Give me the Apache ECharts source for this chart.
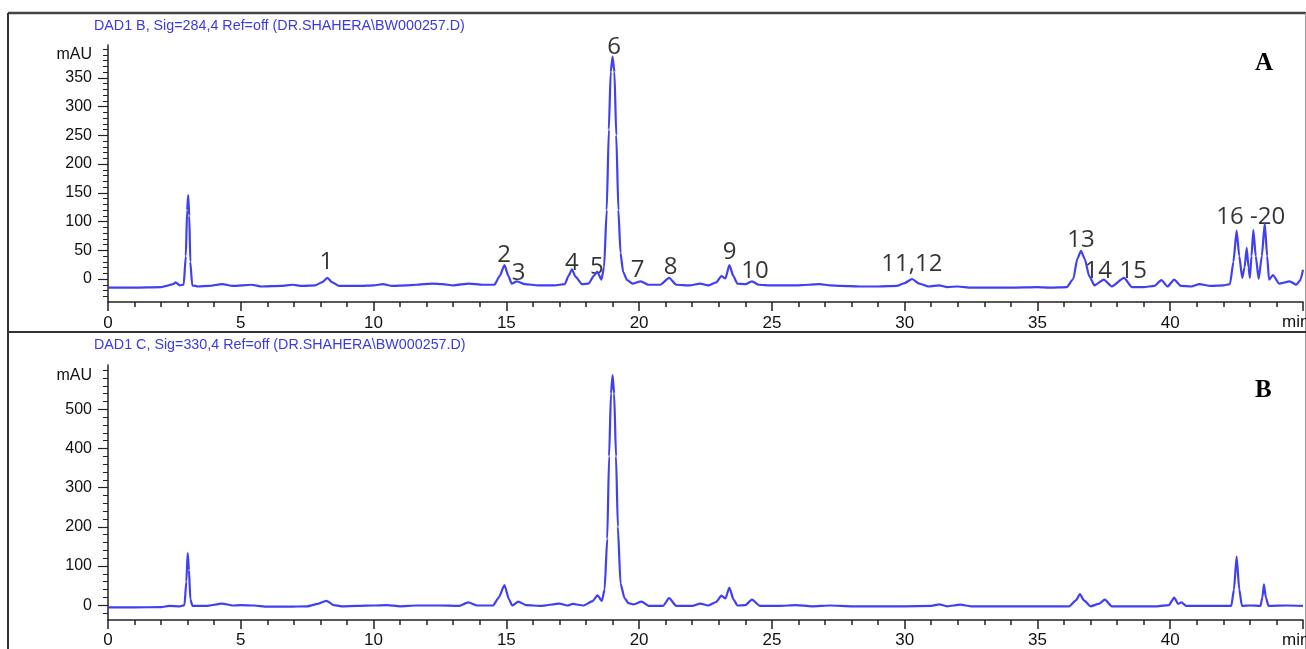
<!DOCTYPE html>
<html>
<head>
<meta charset="utf-8">
<title>HPLC chromatogram</title>
<script src="https://cdn.jsdelivr.net/npm/echarts@6.0.0/dist/echarts.min.js"></script>
<style>
  html, body { margin: 0; padding: 0; background: #fff; }
  #chart { width: 1306px; height: 649px; }
</style>
</head>
<body>
<div id="chart"></div>
<script>
// trace A: DAD1 B, 284 nm  (retention time in min, absorbance in mAU)
var timeA = [0, 1.0, 2.0, 2.2, 2.45, 2.55, 2.7, 2.85, 2.93, 2.98, 3.02, 3.06, 3.1, 3.17, 3.4, 3.8, 4.3, 4.7, 5.4, 5.8,
  6.5, 6.96, 7.3, 7.8, 8.05, 8.26, 8.45, 8.7, 9.5, 10.0, 10.35, 10.7, 11.2, 11.6, 12.2, 12.6, 13.0, 13.6, 14.1, 14.55,
  14.75, 14.93, 15.08, 15.2, 15.4, 15.7, 16.2, 16.8, 17.2, 17.35, 17.47, 17.6, 17.85, 18.1, 18.3, 18.42, 18.58, 18.68, 18.78, 18.86,
  18.93, 19.0, 19.07, 19.14, 19.22, 19.3, 19.4, 19.55, 19.75, 20.06, 20.35, 20.8, 21.13, 21.4, 21.9, 22.3, 22.6, 22.9, 23.1, 23.25,
  23.4, 23.55, 23.7, 24.0, 24.25, 24.5, 25.0, 25.8, 26.4, 26.8, 27.2, 27.6, 28.3, 29.0, 29.7, 30.0, 30.28, 30.55, 30.9, 31.3,
  31.6, 32.0, 32.5, 34.0, 35.0, 35.5, 36.1, 36.35, 36.5, 36.64, 36.78, 36.95, 37.15, 37.5, 37.8, 38.26, 38.55, 39.0, 39.4, 39.67,
  39.9, 40.15, 40.4, 40.8, 41.1, 41.5, 42.0, 42.25, 42.38, 42.5, 42.6, 42.71, 42.8, 42.88, 42.95, 43.0, 43.06, 43.13, 43.22, 43.33,
  43.45, 43.56, 43.65, 43.72, 43.87, 44.1, 44.5, 44.75, 44.9, 45.0];
var mauA = [-15, -15, -14, -12, -9, -6, -11, -10, 40, 120, 146, 110, 30, -11, -13, -12, -9, -12, -10, -13,
  -12, -10, -12, -11, -6, 2, -6, -12, -12, -11, -9, -12, -11, -10, -8, -9, -11, -8, -10, -10,
  5, 24, 5, -8, -4, -9, -11, -11, -9, 6, 17, 4, -9, -8, 6, 13, -1, 20, 120, 260,
  360, 387, 360, 250, 120, 45, 12, -2, -8, -4, -10, -10, 2, -10, -11, -8, -11, -6, 5, 1,
  24, 5, -8, -9, -4, -10, -11, -11, -10, -9, -11, -12, -13, -13, -12, -7, 0, -8, -13, -11,
  -14, -13, -15, -15, -14, -15, -14, 0, 35, 49, 35, 5, -11, -1, -13, 2, -14, -14, -12, -2,
  -13, -1, -12, -13, -9, -12, -11, -9, 30, 84, 40, 2, 20, 54, 20, 2, 40, 85, 40, 0,
  40, 97, 40, -1, 7, -8, -4, -10, -2, 16];

// trace B: DAD1 C, 330 nm
var timeB = [0, 1.0, 2.0, 2.3, 2.7, 2.88, 2.95, 3.0, 3.05, 3.1, 3.18, 3.7, 4.3, 4.7, 5.0, 5.5, 6.0, 6.8, 7.5, 7.9,
  8.22, 8.5, 8.8, 9.4, 10.0, 10.5, 11.0, 11.6, 12.5, 13.2, 13.57, 13.9, 14.5, 14.72, 14.93, 15.1, 15.22, 15.45, 15.75, 16.3,
  17.0, 17.3, 17.5, 17.9, 18.25, 18.43, 18.6, 18.7, 18.8, 18.87, 18.94, 19.0, 19.06, 19.13, 19.2, 19.3, 19.45, 19.6, 19.8, 20.09,
  20.36, 20.9, 21.13, 21.4, 22.0, 22.3, 22.6, 22.9, 23.1, 23.25, 23.4, 23.55, 23.7, 24.0, 24.25, 24.55, 25.3, 25.9, 26.5, 27.2,
  28.0, 29.0, 30.0, 31.0, 31.3, 31.6, 32.1, 32.5, 34.0, 36.2, 36.45, 36.6, 36.75, 37.0, 37.3, 37.54, 37.8, 39.5, 39.95, 40.15,
  40.3, 40.42, 40.6, 41.5, 42.3, 42.4, 42.5, 42.6, 42.7, 43.0, 43.4, 43.47, 43.53, 43.6, 43.7, 44.4, 45.0];
var mauB = [-6, -6, -5, -2, -3, 0, 60, 133, 90, 15, -2, -2, 4, -1, 0, -1, -4, -4, -3, 3,
  11, 0, -3, -2, -1, 0, -3, -1, -1, -2, 7, -1, -1, 20, 51, 15, -1, 9, 0, -2,
  4, -1, 3, -1, 10, 25, 11, 40, 170, 380, 540, 587, 540, 380, 200, 55, 18, 5, 2, 9,
  -2, -2, 18, -2, -2, 4, -1, 8, 24, 17, 45, 15, -1, 0, 14, -2, -2, 0, -3, -1,
  -3, -3, -3, -2, 2, -3, 1, -3, -3, -3, 12, 28, 12, -3, 3, 14, -3, -3, 0, 19,
  3, 7, -2, -2, -2, 40, 124, 40, -2, -1, -2, 20, 53, 20, -2, -1, -2];

// axis labels
var yLabelsA = [0, 50, 100, 150, 200, 250, 300, 350];
var yLabelsB = [0, 100, 200, 300, 400, 500];

// peak numbers on trace A, placed in data units
var peakNames = ['1', '2', '3', '4', '5', '6', '7', '8', '9', '10', '11,12', '13', '14', '15', '16 -20'];
var peakTime = [8.22, 14.92, 15.46, 17.47, 18.41, 19.06, 19.94, 21.19, 23.41, 24.36, 30.27, 36.64, 37.29, 38.61, 43.03];
var peakMau = [30, 42, 11, 27, 21, 404, 16, 21, 46, 13, 26, 68, 14, 14, 108];

function pairs (xs, ys) {
  return xs.map(function (x, i) { return [x, ys[i]] })
}
function steps (from, to, step) {
  var out = []
  for (var v = from; v <= to; v += step) out.push(v)
  return out
}

var chart = echarts.init(document.getElementById('chart'))
var axisColor = '#222'
var labelFont = 'Liberation Sans'
var lineBlue = '#4040f0'

function xAxisFor (gridIndex, margin) {
  return {
    type: 'value', gridIndex: gridIndex, min: 0, max: 45, interval: 5,
    axisLine: { onZero: false, lineStyle: { color: axisColor, width: 1.5 } },
    axisTick: { length: 9, lineStyle: { color: axisColor, width: 1.5 } },
    minorTick: { show: true, splitNumber: 5, length: 5, lineStyle: { color: axisColor, width: 1.5 } },
    axisLabel: {
      margin: margin, fontFamily: labelFont, fontSize: 17, color: '#111',
      formatter: function (v) { return v === 45 ? '' : String(v) }
    },
    splitLine: { show: false }
  }
}
function yMinor (gridIndex, min, max, ticks) {
  return {
    type: 'value', gridIndex: gridIndex, min: min, max: max,
    axisLine: { show: true, lineStyle: { color: axisColor, width: 1.5 } },
    axisTick: { customValues: ticks, length: 5, lineStyle: { color: axisColor, width: 1 } },
    axisLabel: { show: false },
    splitLine: { show: false }
  }
}
function yMajor (gridIndex, min, max, labels, unitAt) {
  return {
    type: 'value', gridIndex: gridIndex, min: min, max: max, position: 'left',
    axisLine: { show: false },
    axisTick: { customValues: labels, length: 10, lineStyle: { color: axisColor, width: 1.2 } },
    axisLabel: {
      customValues: labels.concat([unitAt]), margin: 16,
      fontFamily: labelFont, fontSize: 16, color: '#111',
      formatter: function (v) { return v === unitAt ? 'mAU' : String(v) }
    },
    splitLine: { show: false }
  }
}

var option = {
  animation: false,
  backgroundColor: '#fff',
  title: [
    { text: 'DAD1 B, Sig=284,4 Ref=off (DR.SHAHERA\\BW000257.D)', left: 89, top: 14,
      textStyle: { fontFamily: labelFont, fontSize: 14.3, fontWeight: 'normal', color: '#3a3ae0' } },
    { text: 'DAD1 C, Sig=330,4 Ref=off (DR.SHAHERA\\BW000257.D)', left: 89, top: 333,
      textStyle: { fontFamily: labelFont, fontSize: 14.3, fontWeight: 'normal', color: '#3a3ae0' } },
    { text: 'A', left: 1250, top: 46,
      textStyle: { fontFamily: 'Liberation Serif', fontSize: 25, fontWeight: 'bold', color: '#000' } },
    { text: 'B', left: 1250, top: 373,
      textStyle: { fontFamily: 'Liberation Serif', fontSize: 25, fontWeight: 'bold', color: '#000' } }
  ],
  grid: [
    { left: 108, top: 45, width: 1197, height: 257 },
    { left: 108, top: 365, width: 1197, height: 256 }
  ],
  xAxis: [xAxisFor(0, 13), xAxisFor(1, 12)],
  yAxis: [
    yMinor(0, -40, 407, steps(-30, 400, 10)),
    yMajor(0, -40, 407, yLabelsA, 391),
    yMinor(1, -38, 613, steps(-20, 600, 20)),
    yMajor(1, -38, 613, yLabelsB, 587)
  ],
  series: [
    {
      type: 'line', xAxisIndex: 0, yAxisIndex: 0, data: pairs(timeA, mauA),
      showSymbol: false, smooth: 0.2, smoothMonotone: 'x',
      lineStyle: { color: lineBlue, width: 2.2 }
    },
    {
      type: 'line', xAxisIndex: 1, yAxisIndex: 2, data: pairs(timeB, mauB),
      showSymbol: false, smooth: 0.2, smoothMonotone: 'x',
      lineStyle: { color: lineBlue, width: 2.2 }
    },
    {
      type: 'scatter', xAxisIndex: 0, yAxisIndex: 0, symbolSize: 1, silent: true,
      itemStyle: { color: 'transparent' },
      data: peakNames.map(function (n, i) { return { name: n, value: [peakTime[i], peakMau[i]] } }),
      label: {
        show: true, position: 'inside', formatter: '{b}',
        fontFamily: 'Open Sans', fontSize: 24, color: '#000'
      }
    }
  ],
  graphic: [
    { type: 'line', shape: { x1: 8, y1: 13, x2: 1306, y2: 13 }, style: { stroke: '#444', lineWidth: 2.5 } },
    { type: 'line', shape: { x1: 8, y1: 13, x2: 8, y2: 649 }, style: { stroke: '#333', lineWidth: 2 } },
    { type: 'line', shape: { x1: 1305.5, y1: 13, x2: 1305.5, y2: 649 }, style: { stroke: '#999', lineWidth: 1 } },
    { type: 'line', shape: { x1: 8, y1: 332, x2: 1306, y2: 332 }, style: { stroke: '#333', lineWidth: 2 } },
    { type: 'text', left: 1282, top: 314, style: { text: 'min', font: '17px "Liberation Sans"', fill: '#111' } },
    { type: 'text', left: 1282, top: 632, style: { text: 'min', font: '17px "Liberation Sans"', fill: '#111' } }
  ]
}
chart.setOption(option)
</script>
</body>
</html>
